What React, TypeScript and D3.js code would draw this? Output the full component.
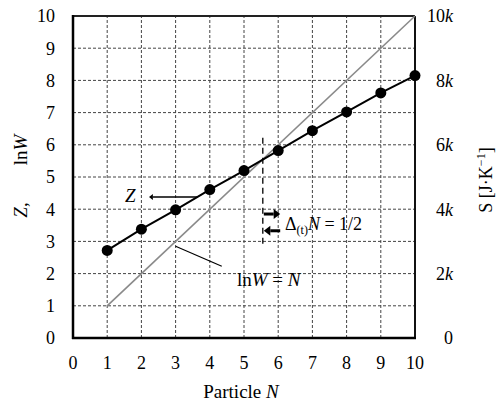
import React from "react";
import * as d3 from "d3";

// data
const particleN = [1, 2, 3, 4, 5, 6, 7, 8, 9, 10];
const zValues = [2.72, 3.38, 3.98, 4.61, 5.2, 5.82, 6.44, 7.02, 7.61, 8.15];
const lnWN = [1, 10];
const lnWValues = [1, 10];
const xTicks = [0, 1, 2, 3, 4, 5, 6, 7, 8, 9, 10];
const leftTicks = [0, 1, 2, 3, 4, 5, 6, 7, 8, 9, 10];
const rightTicks = [0, 2000, 4000, 6000, 8000, 10000];
const rightTickLabels = ["0", "2", "4", "6", "8", "10"];
const transitionN = 5.55;
const transitionRange = [2.8, 6.22];

const W = 496;
const H = 406;
const margin = { top: 16, right: 81, bottom: 68, left: 73 };
const serif = "'Liberation Serif', 'Times New Roman', serif";

// horizontal arrow, head at (tx, yy)
function Arrow({ fx, tx, yy, w, head }: { fx: number; tx: number; yy: number; w: number; head: number }) {
  const dir = tx > fx ? 1 : -1;
  const hx = tx - dir * head * 1.3;
  return (
    <g>
      <line x1={fx} x2={hx} y1={yy} y2={yy} stroke="#000" strokeWidth={w} />
      <path d={`M${tx},${yy} L${hx},${yy - head} L${hx},${yy + head} Z`} fill="#000" />
    </g>
  );
}

export default function App() {
  const x = d3.scaleLinear().domain([0, 10]).range([margin.left, W - margin.right]);
  const y = d3.scaleLinear().domain([0, 10]).range([H - margin.bottom, margin.top]);
  const yS = d3.scaleLinear().domain([0, 10000]).range([H - margin.bottom, margin.top]);

  const zLine = d3
    .line<number>()
    .x((d, i) => x(particleN[i]))
    .y((d) => y(d));
  const lnWLine = d3
    .line<number>()
    .x((d, i) => x(lnWN[i]))
    .y((d) => y(d));

  const x0 = x(0);
  const x1 = x(10);
  const y0 = y(0);
  const y1 = y(10);

  return (
    <svg
      width={W}
      height={H}
      style={{ position: "absolute", left: 0, top: 0, background: "#fff" }}
      fontFamily={serif}
    >
      {/* grid */}
      {xTicks.slice(1, -1).map((t) => (
        <line key={"gx" + t} x1={x(t)} x2={x(t)} y1={y0} y2={y1} stroke="#444" strokeWidth={1} strokeDasharray="3,2" />
      ))}
      {leftTicks.slice(1, -1).map((t) => (
        <line key={"gy" + t} x1={x0} x2={x1} y1={y(t)} y2={y(t)} stroke="#444" strokeWidth={1} strokeDasharray="3,2" />
      ))}

      {/* frame */}
      <line x1={x0} x2={x1} y1={y1} y2={y1} stroke="#222" strokeWidth={2} />
      <line x1={x1} x2={x1} y1={y1} y2={y0} stroke="#111" strokeWidth={2} />
      <line x1={x0} x2={x0} y1={y1 - 1} y2={y0 + 1} stroke="#000" strokeWidth={2.5} />
      <line x1={x0 - 1} x2={x1 + 1} y1={y0} y2={y0} stroke="#000" strokeWidth={2.5} />

      {/* lnW = N */}
      <path d={lnWLine(lnWValues) || ""} fill="none" stroke="#8a8a8a" strokeWidth={1.6} />

      {/* Z */}
      <path d={zLine(zValues) || ""} fill="none" stroke="#000" strokeWidth={2} />
      {zValues.map((v, i) => (
        <circle key={"p" + i} cx={x(particleN[i])} cy={y(v)} r={5.5} fill="#000" />
      ))}

      {/* transition marker */}
      <line
        x1={x(transitionN)}
        x2={x(transitionN)}
        y1={y(transitionRange[1])}
        y2={y(transitionRange[0])}
        stroke="#000"
        strokeWidth={1.3}
        strokeDasharray="6,4"
      />
      <Arrow fx={x(transitionN) + 1} tx={x(6) + 2} yy={y(3.85)} w={3} head={5} />
      <Arrow fx={x(6) + 2} tx={x(transitionN) + 1} yy={y(3.33)} w={3} head={5} />
      <text x={285} y={230} fontSize={18}>
        {"Δ"}
        <tspan fontSize={12} dy={4}>(t)</tspan>
        <tspan dy={-4} fontStyle="italic">N</tspan>
        {" = 1/2"}
      </text>

      {/* Z label and arrow */}
      <text x={125} y={202} fontSize={19} fontStyle="italic">Z</text>
      <Arrow fx={198} tx={149} yy={197} w={1.3} head={3} />

      {/* lnW = N label */}
      <line x1={x(3)} x2={x(4.35)} y1={y(2.85)} y2={y(2.23)} stroke="#000" strokeWidth={1.2} />
      <text x={237} y={286} fontSize={19}>
        ln<tspan fontStyle="italic">W</tspan>
        {" = "}
        <tspan fontStyle="italic">N</tspan>
      </text>

      {/* left tick labels */}
      {leftTicks.map((t) => (
        <text key={"l" + t} x={55} y={y(t)} dy="0.35em" textAnchor="end" fontSize={18}>
          {t}
        </text>
      ))}
      {/* right tick labels */}
      {rightTicks.map((t, i) => (
        <text key={"r" + t} x={453} y={yS(t)} dy="0.35em" textAnchor="end" fontSize={18}>
          {rightTickLabels[i]}
          {t > 0 ? <tspan fontStyle="italic">k</tspan> : null}
        </text>
      ))}
      {/* bottom tick labels */}
      {xTicks.map((t) => (
        <text key={"b" + t} x={x(t)} y={369} textAnchor="middle" fontSize={18}>
          {t}
        </text>
      ))}

      {/* axis titles */}
      <text x={241} y={398} textAnchor="middle" fontSize={19}>
        Particle <tspan fontStyle="italic">N</tspan>
      </text>
      <text transform="translate(27,210) rotate(-90)" textAnchor="middle" fontSize={19}>
        <tspan fontStyle="italic">Z</tspan>,
      </text>
      <text transform="translate(27,150) rotate(-90)" textAnchor="middle" fontSize={19}>
        ln<tspan fontStyle="italic">W</tspan>
      </text>
      <text transform="translate(492,180) rotate(-90)" textAnchor="middle" fontSize={18}>
        S [J·K<tspan fontSize={12} dy={-7}>−1</tspan>
        <tspan dy={7}>]</tspan>
      </text>
    </svg>
  );
}
